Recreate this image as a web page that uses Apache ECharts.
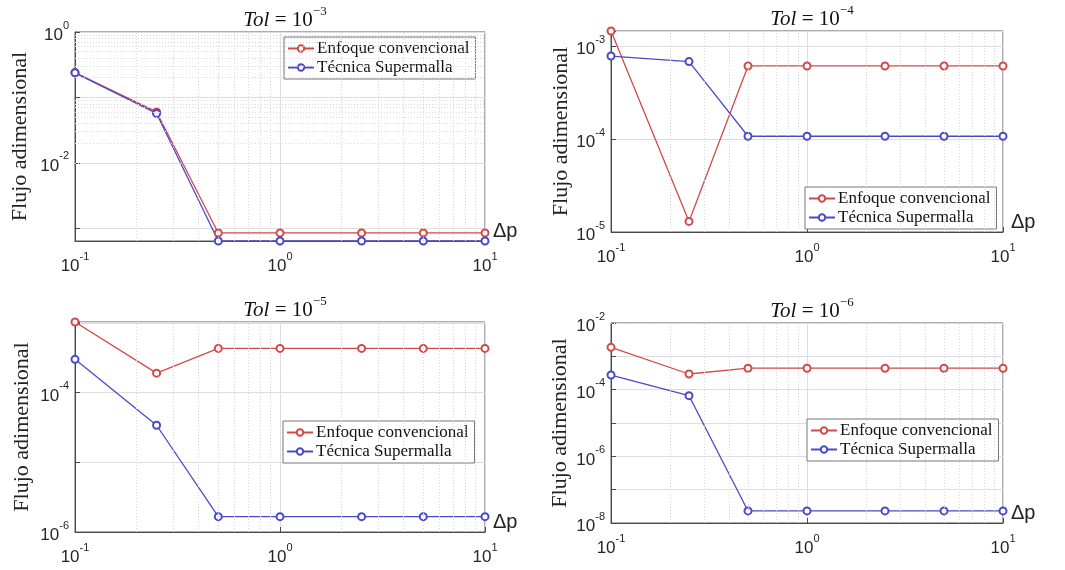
<!DOCTYPE html>
<html>
<head>
<meta charset="utf-8">
<script src="https://cdn.jsdelivr.net/npm/echarts@6/dist/echarts.min.js"></script>
<style>
html, body { margin: 0; background: #fff; }
#chart { width: 1065px; height: 570px; }
</style>
</head>
<body>
<div id="chart"></div>
<script>
// Δp values (shared x for all panels)
const dp = [0.1, 0.25, 0.5, 1, 2.5, 5, 10]
const xLabelExps = [-1, 0, 1]

// Tol = 1e-3
const tol3Conv = [0.24, 0.060, 8.5e-4, 8.5e-4, 8.5e-4, 8.5e-4, 8.5e-4]
const tol3Super = [0.238, 0.057, 6.4e-4, 6.4e-4, 6.4e-4, 6.4e-4, 6.4e-4]
// Tol = 1e-4
const tol4Conv = [1.45e-3, 1.3e-5, 6.1e-4, 6.1e-4, 6.1e-4, 6.1e-4, 6.1e-4]
const tol4Super = [7.8e-4, 6.8e-4, 1.07e-4, 1.07e-4, 1.07e-4, 1.07e-4, 1.07e-4]
// Tol = 1e-5
const tol5Conv = [1.03e-3, 1.9e-4, 4.3e-4, 4.3e-4, 4.3e-4, 4.3e-4, 4.3e-4]
const tol5Super = [3.0e-4, 3.4e-5, 1.66e-6, 1.66e-6, 1.66e-6, 1.66e-6, 1.66e-6]
// Tol = 1e-6
const tol6Conv = [1.86e-3, 2.95e-4, 4.4e-4, 4.4e-4, 4.4e-4, 4.4e-4, 4.4e-4]
const tol6Super = [2.75e-4, 6.6e-5, 2.3e-8, 2.3e-8, 2.3e-8, 2.3e-8, 2.3e-8]

const tolExps = ['−3', '−4', '−5', '−6']
const yLabelExps = [[0, -2], [-3, -4, -5], [-4, -6], [-2, -4, -6, -8]]
const yLimits = [[6.4e-4, 1], [1e-5, 1.45e-3], [1e-6, 1.03e-3], [1e-8, 1e-2]]
const convSeries = [tol3Conv, tol4Conv, tol5Conv, tol6Conv]
const superSeries = [tol3Super, tol4Super, tol5Super, tol6Super]

const seriesNames = ['Enfoque convencional', 'Técnica Supermalla']

// layout
const panels = [
  { left: 75, top: 32, width: 410, height: 209, legend: [284, 37], nameGap: 44 },
  { left: 611, top: 31, width: 392, height: 201, legend: [805, 187], nameGap: 38 },
  { left: 75, top: 322, width: 410, height: 210, legend: [283, 421], nameGap: 42 },
  { left: 611, top: 323, width: 392, height: 200, legend: [807, 419], nameGap: 40 }
]

const RED = '#d04a4a'
const BLUE = '#4a4ac8'
const SANS = 'Liberation Sans, Arial, sans-serif'
const SERIF = 'Liberation Serif, Times New Roman, serif'

const pow10Label = (exps) => (v) => {
  const e = Math.log10(v)
  const r = Math.round(e)
  if (Math.abs(e - r) > 1e-6 || exps.indexOf(r) < 0) return ''
  return '{b|10}{e|' + r + '}'
}

const labelRich = {
  b: { fontSize: 17, fontFamily: SANS, color: '#262626', lineHeight: 24, verticalAlign: 'bottom' },
  e: { fontSize: 11, fontFamily: SANS, color: '#262626', verticalAlign: 'top' }
}

function minorValues(min, max) {
  const out = []
  for (let d = Math.floor(Math.log10(min)); d <= Math.ceil(Math.log10(max)); d++) {
    for (let k = 2; k <= 9; k++) {
      const v = k * Math.pow(10, d)
      if (v > min && v < max) out.push(v)
    }
  }
  return out
}

const option = {
  animation: false,
  backgroundColor: '#fff',
  grid: [],
  xAxis: [],
  yAxis: [],
  title: [],
  legend: [],
  series: []
}

panels.forEach((p, i) => {
  option.grid.push({
    left: p.left, top: p.top, width: p.width, height: p.height,
    show: true, borderColor: '#5a5a5a', borderWidth: 1, backgroundColor: '#fff'
  })
  option.title.push({
    text: '{i|Tol}{n| = 10}{e|' + tolExps[i] + '}',
    left: p.left + p.width / 2,
    top: p.top - 32,
    textAlign: 'center',
    textStyle: {
      fontWeight: 'normal',
      rich: {
        i: { fontFamily: SERIF, fontStyle: 'italic', fontWeight: 'normal', fontSize: 21, color: '#111', lineHeight: 26, verticalAlign: 'bottom' },
        n: { fontFamily: SERIF, fontWeight: 'normal', fontSize: 21, color: '#111', lineHeight: 26, verticalAlign: 'bottom' },
        e: { fontFamily: SERIF, fontWeight: 'normal', fontSize: 13, color: '#111', verticalAlign: 'top' }
      }
    }
  })
  option.xAxis.push({
    type: 'log', logBase: 10, gridIndex: i, min: 0.1, max: 10, splitNumber: 10,
    name: 'Δp', nameLocation: 'end', nameGap: 8,
    nameTextStyle: { fontFamily: SANS, fontSize: 20, color: '#222', verticalAlign: 'bottom' },
    axisLine: { lineStyle: { color: '#4a4a4a' } },
    axisTick: { inside: true, length: 5, lineStyle: { color: '#4a4a4a' } },
    axisLabel: { margin: 10, formatter: pow10Label(xLabelExps), rich: labelRich, showMinLabel: true, showMaxLabel: true },
    splitLine: { show: true, lineStyle: { color: '#dedede' } }
  })
  option.yAxis.push({
    type: 'log', logBase: 10, gridIndex: i, min: yLimits[i][0], max: yLimits[i][1], splitNumber: 10,
    name: 'Flujo adimensional', nameLocation: 'middle', nameRotate: 90, nameGap: p.nameGap,
    nameTextStyle: { fontFamily: SERIF, fontSize: 22, color: '#222' },
    axisLine: { show: true, lineStyle: { color: '#4a4a4a' } },
    axisTick: { show: true, inside: true, length: 5, lineStyle: { color: '#4a4a4a' } },
    axisLabel: { margin: 6, formatter: pow10Label(yLabelExps[i]), rich: labelRich, showMinLabel: true, showMaxLabel: true },
    splitLine: { show: true, lineStyle: { color: '#dedede' } }
  })
  option.legend.push({
    data: seriesNames,
    orient: 'vertical',
    left: p.legend[0], top: p.legend[1],
    padding: [3, 6, 3, 3],
    itemGap: 2,
    itemWidth: 26, itemHeight: 8,
    backgroundColor: '#fff',
    borderColor: '#777', borderWidth: 1,
    textStyle: { fontFamily: SERIF, fontSize: 17, color: '#111', padding: [0, 0, 0, -2] },
    selectedMode: false
  })
  // minor grid (MATLAB style, 2..9 per decade)
  option.series.push({
    type: 'line', xAxisIndex: i, yAxisIndex: i, data: [], silent: true, z: 1,
    markLine: {
      silent: true, symbol: ['none', 'none'], label: { show: false }, animation: false,
      lineStyle: { color: '#d9d9d9', type: [1, 2], width: 1 },
      emphasis: { disabled: true },
      data: minorValues(yLimits[i][0], yLimits[i][1]).map(v => ({ yAxis: v }))
        .concat(minorValues(0.1, 10).map(v => ({ xAxis: v })))
    }
  })
  ;[convSeries[i], superSeries[i]].forEach((vals, k) => {
    option.series.push({
      name: seriesNames[k],
      type: 'line', xAxisIndex: i, yAxisIndex: i, z: 3,
      data: dp.map((x, j) => [x, vals[j]]),
      color: k ? BLUE : RED,
      symbol: 'emptyCircle', symbolSize: 7,
      lineStyle: { width: 1.3 },
      itemStyle: { borderWidth: 1.3 },
      clip: false
    })
  })
})

const chart = echarts.init(document.getElementById('chart'))
chart.setOption(option)
</script>
</body>
</html>
